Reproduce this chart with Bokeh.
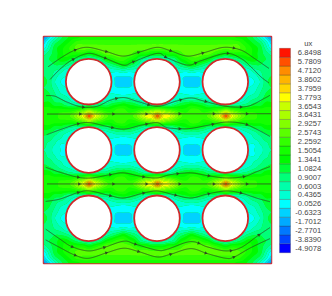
import numpy as np
from bokeh.core.properties import value
from bokeh.embed import file_html
from bokeh.layouts import row
from bokeh.models import Range1d
from bokeh.plotting import figure
from bokeh.resources import INLINE

legend_title = "ux"
level_labels = ["-4.9078", "-3.8390", "-2.7701", "-1.7012", "-0.6323", "0.0526", "0.4365", "0.6003",
                "0.9007", "1.0824", "1.3441", "1.5054", "2.2592", "2.5743", "2.9257", "3.6431",
                "3.6543", "3.7793", "3.7959", "3.8602", "4.7120", "5.7809", "6.8498"]
level_colors = ["#0000ff", "#0046ff", "#0078ff", "#00aaff", "#00d2ff", "#00ffff", "#00ffd2", "#00ffaa",
                "#00ff78", "#00ff32", "#00fa00", "#14ff00", "#32ff00", "#5aff00", "#82ff00", "#aaff00",
                "#c8ff00", "#ffff00", "#ffd700", "#ffb400", "#ff8c00", "#ff5000", "#ff1400"]

# colour level (position on level_colors) on a coarse grid:
# the upper-left quarter of the square, the others mirror it
field_quarter = [
    [2,4,6,8,9,10,10,11,11,11,11,11,11,11,11,11,11,11,11,11,11],
    [4,6,8,9,10,11,12,12,12,12,12,12,12,12,12,12,12,12,12,12,12],
    [5,7,9,10,11,12,13,13,13,13,13,13,13,13,13,13,13,13,13,13,13],
    [7,8,9,10,11,11,11,11,10,11,12,13,13,13,13,13,12,11,11,10,10],
    [8,8.5,9,10,10,9,8,7,6.5,7,8,10,11,12,12,11,10,8,7,6.5,6.5],
    [8,8,8.5,8.5,8,7,6,5.5,5.5,5.5,6,7,8,9,10,9,8,7,6,5.5,5.5],
    [8,8,7.5,7,6,5.5,5.5,5.5,5.5,5.5,5.5,5.5,6,6,6.5,6,6,5.5,5.5,5.5,5.5],
    [8.5,8,7,6,5.5,5.5,5.5,5.5,5.5,5.5,5.5,5.5,4.8,4.5,4.5,4.5,4.8,5.5,5.5,5.5,5.5],
    [9,8,6.5,5.5,5,5,5,5,5,5,5,5,4.8,4.2,4,4.2,4.8,5,5,5,5],
    [8.5,8,7,6,5.5,5.5,5.5,5.5,5.5,5.5,5.5,5.5,4.8,4.5,4.5,4.5,4.8,5.5,5.5,5.5,5.5],
    [9,8.5,7.5,6.5,6,5.5,5.5,5.5,5.5,5.5,5.5,5.5,5.5,5.2,5,5.2,5.5,5.5,5.5,5.5,5.5],
    [9,9,8,7.5,7,6,5.5,5.5,5.5,5.5,5.5,6,6.5,7,7,7,6.5,6,5.5,5.5,5.5],
    [10,10,9,9,8,7.5,7,7,7.5,7,8,8,9,9.5,10,9.5,9,8,7,7,7.5],
    [11,11,11,11,11,11,12,13,15,13,12,11,11,12,12,11,11,12,13,14,15],
    [11,11,11,12,12,13,15,17.5,21,17.5,15,13,12,12,12,12,13,15,17,17.5,21],
    [11,11,11,11,11,11,12,13,15,13,12,11,11,12,12,11,11,12,13,14,15],
    [10,10,9,9,8,7.5,7,7,7.5,7,8,8,9,9.5,10,9.5,9,8,7,7,7.5],
    [9,8.5,8,7,6.5,6,5.5,5.5,5.5,5.5,5.5,6,6.5,7,7,7,6.5,6,5.5,5.5,5.5],
    [8,8,7,6.5,6,5.5,5.5,5.5,5.5,5.5,5.5,5.5,5.5,5.2,5,5.2,5.5,5.5,5.5,5.5,5.5],
    [8,7,6.5,5.5,5.5,5.5,5.5,5.5,5.5,5.5,5.5,5.5,4.8,4.5,4.5,4.5,4.8,5.5,5.5,5.5,5.5],
    [7.5,7,6,5.5,5,5,5,5,5,5,5,5,4.8,4.2,4,4.2,4.8,5,5,5,5],
]

domain_left, domain_right = 43.5, 270.5
domain_top, domain_bottom = 36.5, 262.5
cylinder_x = [88.5, 156.5, 224.5]
cylinder_y = [81.5, 149.5, 217.5]
cylinder_radius = 22.7

stream_1_x = [48,62,75,88,106.7,123,140,156.7,170,186.7,203,223,240,253,268]
stream_1_y = [66.7,57,50,47.3,51.7,56,51.7,47.3,50.7,56,52.7,47.3,50,58,68.3]
stream_2_x = [50,60,71.7,88,103,123,133,156.7,167,187,200,225,240,250,260,268]
stream_2_y = [79.3,69,60,53.3,57.3,65,61.7,53.3,58,65,60.7,53.3,58.3,66.7,76.7,82.7]
stream_3_x = [46,55,66.7,81.7,96.7,110,123.3,136.7,156.7,175,190,203,225,246.7,263,269]
stream_3_y = [95.3,96,101.7,106.7,106,100,97.3,101,106,101,97.7,100.7,106,106,98.3,95]
stream_4_x = [47,270]
stream_4_y = [113.7,113.4]
stream_5_x = [46.7,60,78.3,90,106.7,123.3,140,156.7,167,187,206.7,225,243,256.7,269]
stream_5_y = [134.3,129.3,123.3,122.3,126,128.7,125,122.3,127.3,128.3,125,121.7,123.3,129.3,136]
stream_6_x = [45.7,60,78.3,91.7,110,123.3,141.7,156.7,170,190,206.7,225,243,256.7,269]
stream_6_y = [166.7,171.7,176.7,177.3,174,172.3,176,177.3,174,172.3,175,177.3,176,170.7,166]
stream_7_x = [47,270]
stream_7_y = [183.3,183.3]
stream_8_x = [45.7,60,78.3,90,110,123.3,141.7,156.7,173,190,206.7,225,240,256.7,269]
stream_8_y = [200.7,198.3,191.7,190.3,195,197.3,192.7,190.3,194,197.3,193.3,190.3,192.3,197.7,201]
stream_9_x = [45.7,60,71.7,88.3,103.3,123.3,135,156.7,166.7,190,206.7,225,240,256.7,269]
stream_9_y = [228.3,238.3,245.7,250,246.7,240.3,243.3,249.3,248.3,240.7,246,250,246.7,235,226.7]
stream_10_x = [45.7,60,75,88.3,106.7,123.3,138.3,156.7,170,190,206.7,225,233.3,250,269]
stream_10_y = [239,246.7,254.3,257.3,251.7,247.3,250.7,256,253.3,247.7,252.7,257.3,256,246.7,237.7]

arrows_1 = [75,106,138,170,202,233]
arrows_2 = [73,105,133,165,195,227]
arrows_3 = [83,116,148,180,205,240]
arrows_4 = [80,113,146,179,213,246]
arrows_5 = [78,112,146,179,212,246]
arrows_6 = [78,110,143,177,208,243]
arrows_7 = [79,113,146,179,213,246]
arrows_8 = [78,110,143,175,208,240]
arrows_9 = [72,104,135,198,230,258]
arrows_10 = [75,106,138,170,205,233]

streams = [(stream_1_x, stream_1_y, arrows_1), (stream_2_x, stream_2_y, arrows_2),
           (stream_3_x, stream_3_y, arrows_3), (stream_4_x, stream_4_y, arrows_4),
           (stream_5_x, stream_5_y, arrows_5), (stream_6_x, stream_6_y, arrows_6),
           (stream_7_x, stream_7_y, arrows_7), (stream_8_x, stream_8_y, arrows_8),
           (stream_9_x, stream_9_y, arrows_9), (stream_10_x, stream_10_y, arrows_10)]


def smooth_axis0(a, n):
    m = a.shape[0]
    t = np.linspace(0, m - 1, n)
    i = np.clip(np.floor(t).astype(int), 0, m - 2)
    f = (t - i)[:, None]
    p0, p1 = a[np.clip(i - 1, 0, m - 1)], a[i]
    p2, p3 = a[i + 1], a[np.clip(i + 2, 0, m - 1)]
    return 0.5 * (2 * p1 + (p2 - p0) * f + (2 * p0 - 5 * p1 + 4 * p2 - p3) * f ** 2
                  + (3 * p1 - p0 - 3 * p2 + p3) * f ** 3)


q = np.array(field_quarter, dtype=float)
half = np.hstack([q, q[:, -2::-1]])
full = np.vstack([half, half[-2::-1]])
smooth = np.clip(smooth_axis0(smooth_axis0(full, 227).T, 227).T, -0.4, 22.4)
grid_x = np.linspace(domain_left, domain_right, 227)
grid_y = np.linspace(domain_top, domain_bottom, 227)

p = figure(width=278, height=288, output_backend="svg", toolbar_location=None,
           x_range=Range1d(domain_left, domain_right), y_range=Range1d(domain_bottom, domain_top),
           min_border_left=43, min_border_right=7, min_border_top=36, min_border_bottom=25,
           x_axis_type=None, y_axis_type=None)
p.grid.visible = False
p.outline_line_color = "#d92b2b"
p.outline_line_width = 1.5
p.background_fill_color = "#00ff00"
p.border_fill_color = "white"

p.contour(grid_x, grid_y, smooth, levels=[i - 0.5 for i in range(len(level_colors) + 1)],
          fill_color=level_colors, line_color=None)

cx, cy = np.meshgrid(cylinder_x, cylinder_y)
p.circle(x=cx.ravel(), y=cy.ravel(), radius=cylinder_radius, fill_color="white",
         line_color="#cf2a2a", line_width=1.8)

for sx, sy, ax in streams:
    pts = np.column_stack([sx, sy]).astype(float)
    fine = smooth_axis0(pts, 30 * len(sx)) if len(sx) > 2 else pts
    p.line(fine[:, 0], fine[:, 1], line_color="#2c4a22", line_width=0.8)
    ay = np.interp(ax, fine[:, 0], fine[:, 1])
    before = np.interp(np.array(ax) - 1.5, fine[:, 0], fine[:, 1])
    after = np.interp(np.array(ax) + 1.5, fine[:, 0], fine[:, 1])
    p.scatter(ax, ay, marker="triangle", size=3.5,
              angle=-np.pi / 2 - np.arctan2(after - before, 3.0),
              fill_color="#2c4a22", line_color=None)

idx = list(range(len(level_labels)))
leg = figure(width=46, height=288, output_backend="svg", toolbar_location=None,
             x_range=Range1d(278, 324), y_range=Range1d(-1.71, 23.83),
             min_border_left=0, min_border_right=0, min_border_top=36, min_border_bottom=25,
             x_axis_type=None, y_axis_type=None)
leg.grid.visible = False
leg.outline_line_color = None
leg.hbar(y=idx, left=279, right=290, height=1, fill_color=level_colors,
         line_color="#333333", line_alpha=0.45, line_width=0.6)
leg.text(x=[320.6] * len(idx), y=idx, text=level_labels, text_align="right", text_baseline="middle",
         text_font=value("Liberation Sans"), text_font_size="7.6px", text_color="#444444")
leg.text(x=[307.7], y=[23.0], text=[legend_title], text_align="center", text_baseline="middle",
         text_font=value("Liberation Sans"), text_font_size="7.6px", text_color="#444444")

open("out.html", "w").write(file_html(row(p, leg), INLINE))
